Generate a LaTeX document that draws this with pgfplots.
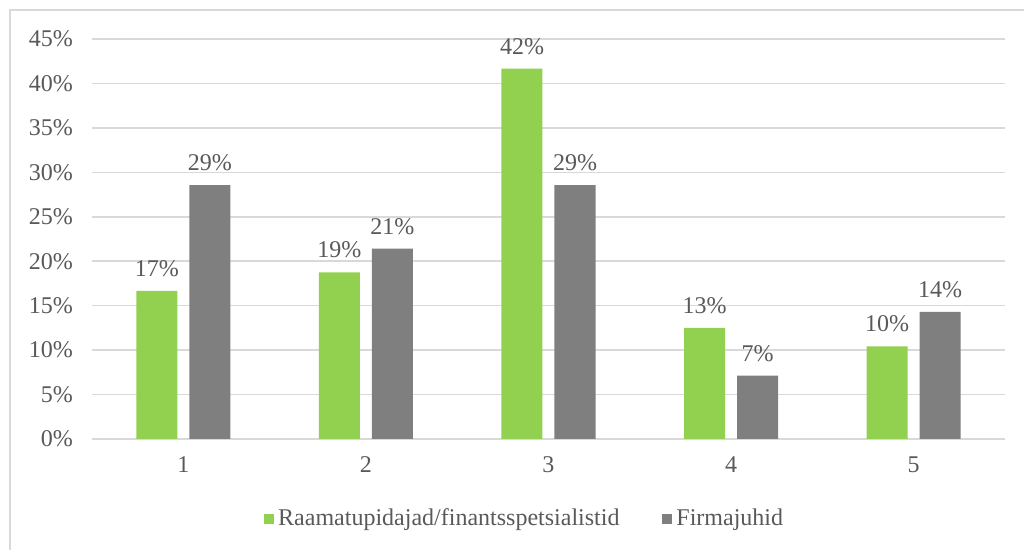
\documentclass[border=0pt]{standalone}
\usepackage{pgfplots}
\pgfplotsset{compat=1.18}
\usepackage{fontspec}
\setmainfont{Liberation Serif}
\definecolor{barGreen}{HTML}{92D050}
\definecolor{barGrey}{HTML}{7F7F7F}
\definecolor{gridGrey}{HTML}{D9D9D9}
\definecolor{textGrey}{HTML}{595959}
\begin{document}
\begin{tikzpicture}[x=1pt,y=1pt]
\useasboundingbox (0,0) rectangle (512,275);
% frame (top and left edges)
\draw[gridGrey, line width=0.8pt] (5,0) -- (5,270) -- (512,270);
\begin{axis}[
  at={(46pt,55.5pt)}, anchor=origin,
  scale only axis, width=456.5pt, height=200pt,
  ybar=6pt, bar width=20.5pt,
  xmin=0.5, xmax=5.5, ymin=0, ymax=45,
  xtick={1,2,3,4,5},
  ytick={0,5,...,45},
  yticklabel={\pgfmathprintnumber{\tick}\%},
  /pgf/number format/assume math mode=true,
  ymajorgrids, grid style={gridGrey, line width=0.8pt},
  axis x line*=bottom, axis y line*=left,
  x axis line style={gridGrey, line width=0.8pt, -},
  y axis line style={draw=none},
  major tick length=0pt,
  tick label style={font=\rmfamily\fontsize{12}{14}\selectfont, text=textGrey},
  yticklabel style={xshift=-6pt},
  xticklabel style={yshift=-5.5pt},
  nodes near coords={\pgfmathprintnumber[fixed,precision=0]{\pgfplotspointmeta}\%},
  every node near coord/.append style={font=\rmfamily\fontsize{12}{14}\selectfont, text=textGrey, yshift=3.5pt},
  legend style={at={(0.475,-0.2)}, anchor=center, draw=none, fill=none,
    font=\rmfamily\fontsize{12}{14}\selectfont, text=textGrey,
    legend columns=2,
    /tikz/every even column/.append style={column sep=19.5pt}},
  legend image code/.code={\fill[#1] (0pt,-2.5pt) rectangle (5pt,2.5pt);},
  legend cell align=left,
]
\addplot[fill=barGreen, draw=none] coordinates {(1,16.67) (2,18.75) (3,41.67) (4,12.5) (5,10.42)};
\addplot[fill=barGrey, draw=none] coordinates {(1,28.57) (2,21.43) (3,28.57) (4,7.14) (5,14.29)};
\legend{Raamatupidajad/finantsspetsialistid, Firmajuhid}
\end{axis}
\end{tikzpicture}
\end{document}
